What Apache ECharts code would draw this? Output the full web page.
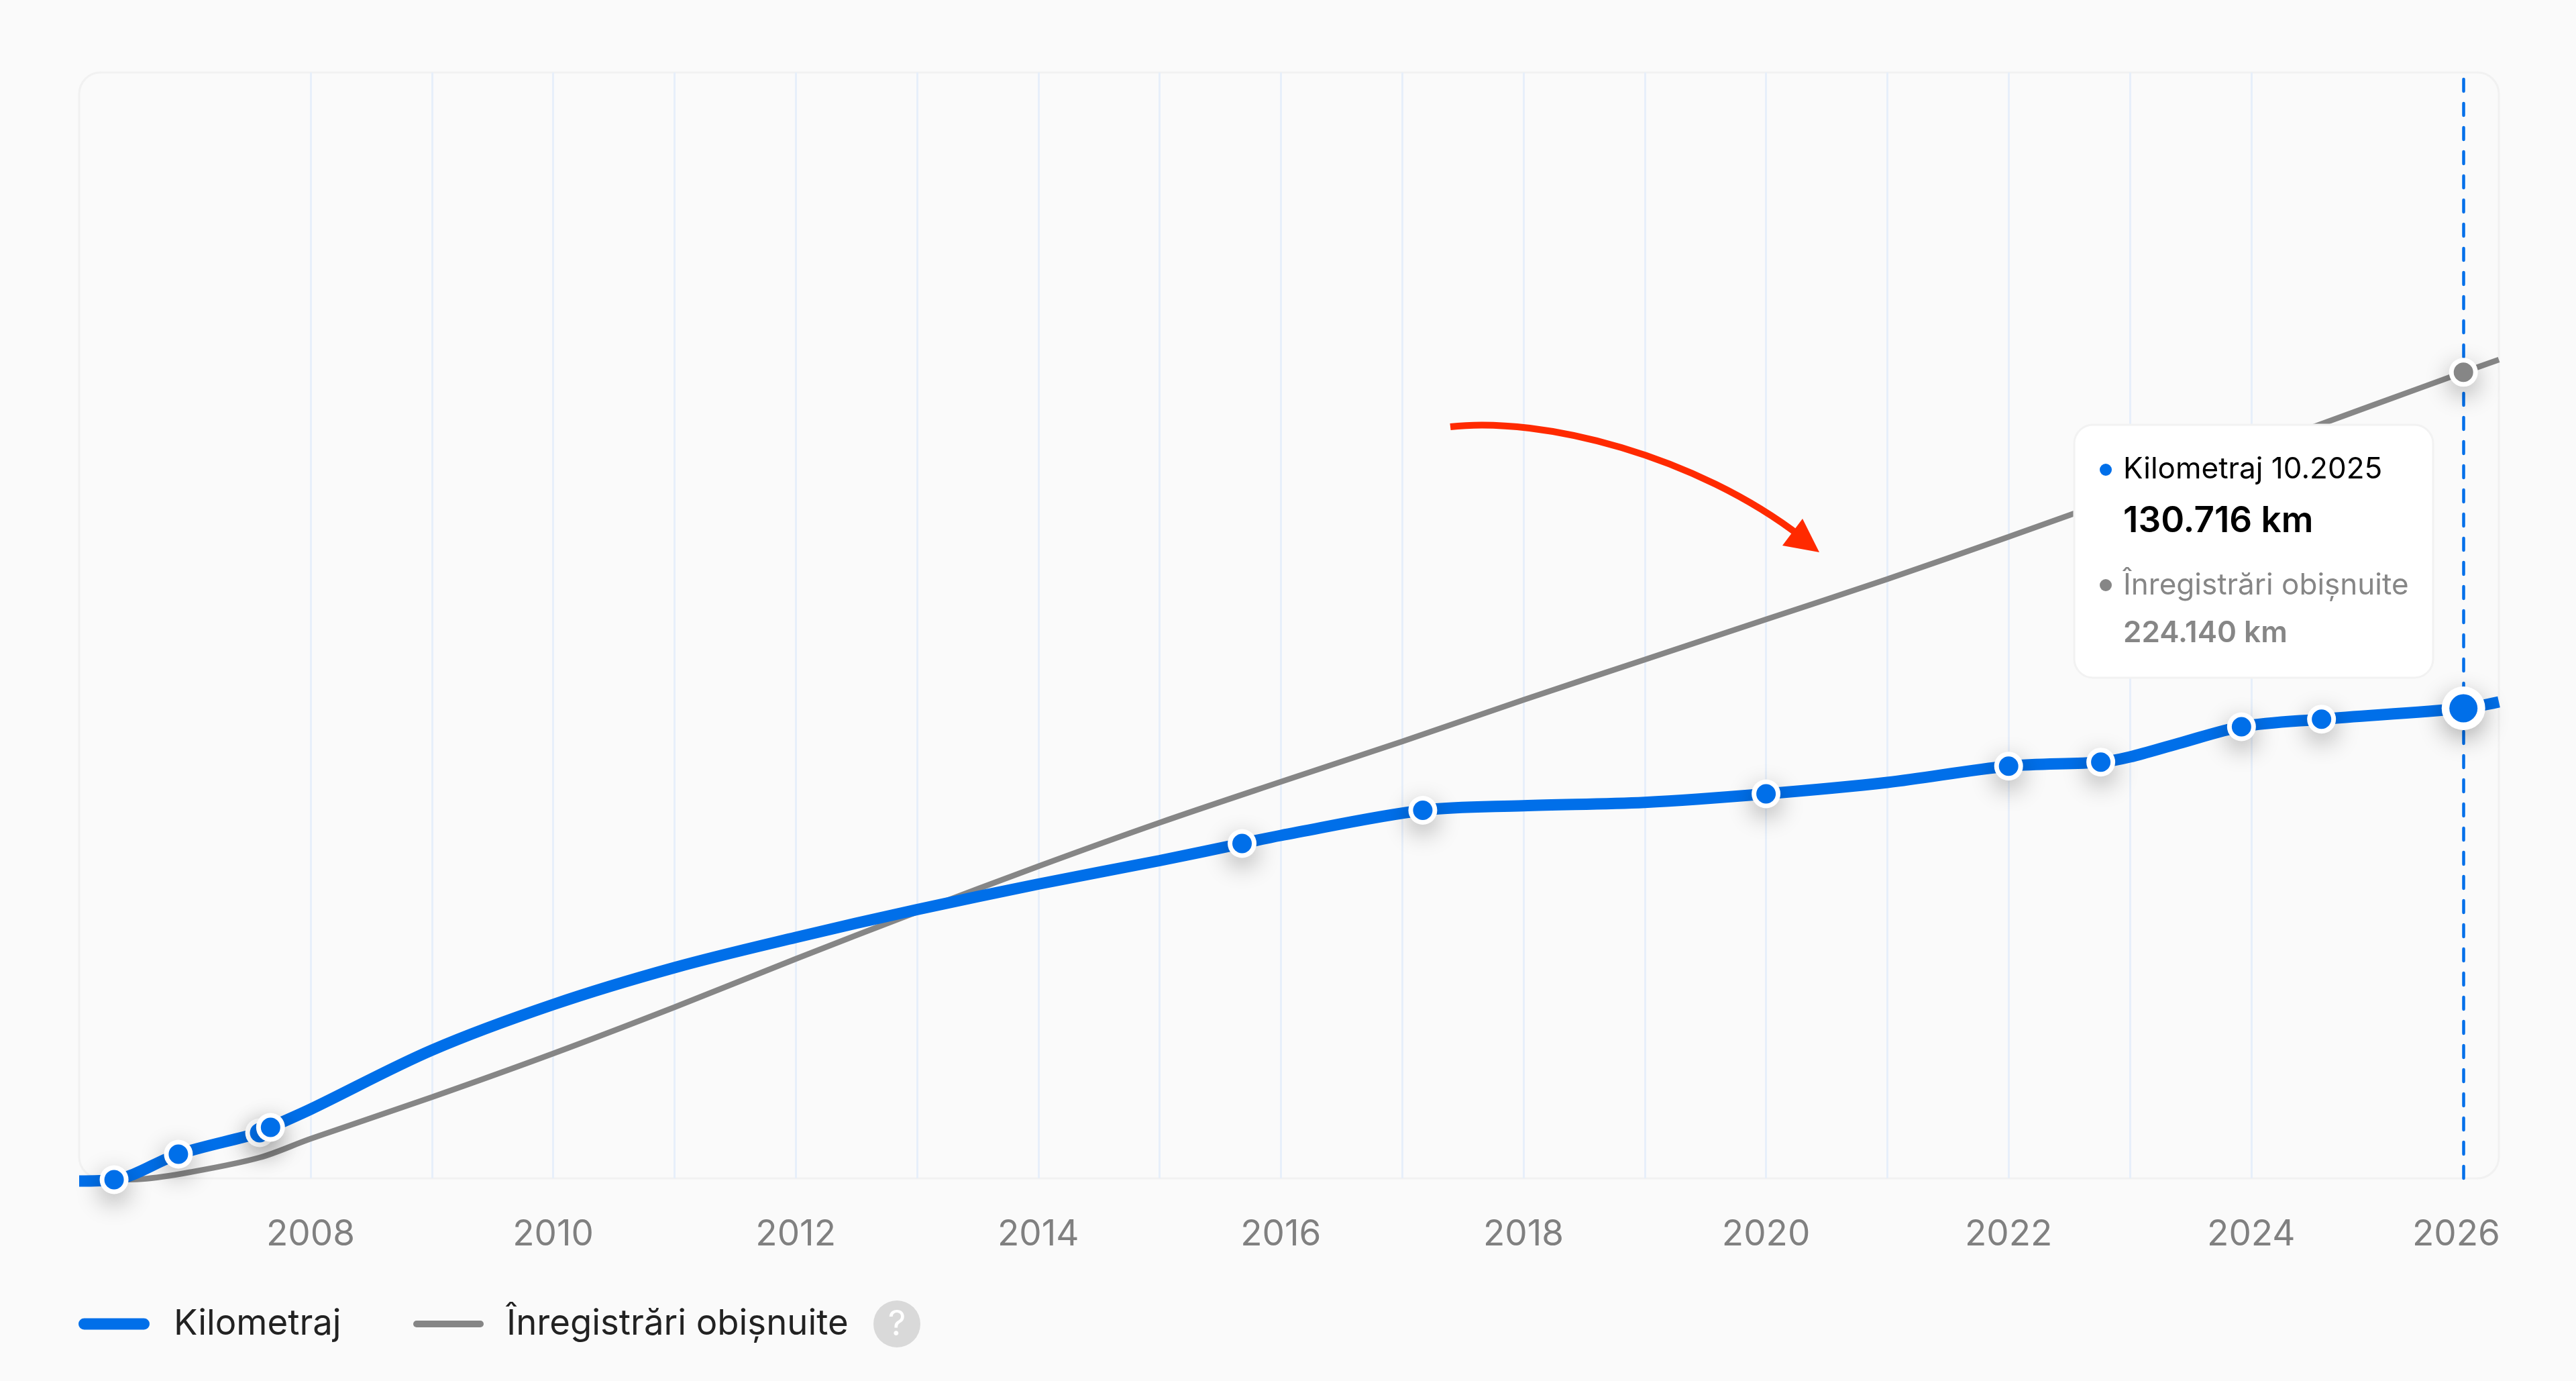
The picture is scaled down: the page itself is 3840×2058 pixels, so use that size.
<!DOCTYPE html>
<html><head><meta charset="utf-8">
<style>html,body{margin:0;padding:0;background:#fafafa}#c{width:3840px;height:2058px}</style>
<script src="https://cdn.jsdelivr.net/npm/echarts@6/dist/echarts.min.js"></script>
</head><body><div id="c"></div>
<script>
// ---- data ----
const seriesKm = 'Kilometraj';
const seriesReg = 'Înregistrări obișnuite';
const tickYears = [2008,2010,2012,2014,2016,2018,2020,2022,2024,2026];
const gridYears = [2007,2008,2009,2010,2011,2012,2013,2014,2015,2016,2017,2018,2019,2020,2021,2022,2023,2024,2025];
const kmYears = [2006.092,2006.38,2006.91,2007.58,2007.67,2008,2009,2010,2011,2012,2013,2014,2015,2015.68,2016,2017.17,2018,2019,2020,2021,2022,2022.76,2023,2023.4,2023.92,2024.58,2025.75,2026.042];
const kmValues = [-750,-373,6718,12689,14182,19220,35641,48329,58592,66990,74734,81825,88356,93113,95353,102350,103620,104550,106920,110094,114630,115750,117185,120917,125580,127690,130716,132490];
const kmMarkerYears = [2006.38,2006.91,2007.58,2007.67,2015.68,2017.17,2020,2022,2022.76,2023.92,2024.58,2025.75];
const regYears = [2006.38,2006.61,2007,2007.58,2008,2009,2010,2011,2012,2013,2014,2015,2016,2017,2018,2019,2020,2021,2022,2023,2024,2025,2025.75,2026.042];
const regValues = [-373,-187,1680,5785,11009,22579,34708,47583,61018,74080,86769,98898,110281,121477,133046,144242,155438,166634,178390,190500,202650,214960,224140,227650];
const currentYear = 2025.75;
const tipTitle = 'Kilometraj 10.2025', tipKm = '130.716 km', tipReg = '224.140 km';

// ---- layout and style ----
const FONT = 'Inter';
const BLUE = '#006fe9', GREY = '#868686';
const box = {l:118, t:108, r:3725, b:1756};
const xRange = [2006.092, 2026.042], yRange = [0, 307517];
const shadow = {shadowColor:'rgba(0,0,0,0.32)', shadowBlur:36, shadowOffsetY:12};
const pair = (ys,vs)=>ys.map((y,i)=>[y,vs[i]]);
const kmMarkers = kmMarkerYears.map(y=>[y,kmValues[kmYears.indexOf(y)]]);
const regMarkers = [[currentYear,regValues[regYears.indexOf(currentYear)]]];

// white halo with a soft shadow and a clean dot on top, drawn in data order
const markerSeries = (data,color,z)=>({type:'custom', data, z, clip:false, silent:true, coordinateSystem:'cartesian2d',
  encode:{x:0,y:1},
  renderItem:(params,api)=>{
    const p = api.coord([api.value(0),api.value(1)]);
    const big = color===BLUE && api.value(0)===currentYear;
    return {type:'group', children:[
      {type:'circle', shape:{cx:p[0],cy:p[1],r:big?32.5:21.5}, style:{fill:'#fff',...shadow}},
      {type:'circle', shape:{cx:p[0],cy:p[1],r:big?21:14.5}, style:{fill:color}}
    ]};
  }});
const txt = (x,y,text,fontSize,fill,fontWeight,align) => ({type:'text', x, y, z:100,
  style:{text, fontFamily:FONT, fontSize, fill, fontWeight:fontWeight||400, textAlign:align||'left', textVerticalAlign:'middle'}});
const labelStyle = {color:'#808080', fontFamily:FONT, fontSize:53};

const chart = echarts.init(document.getElementById('c'), null, {renderer:'canvas'});
chart.setOption({
  animation:false,
  backgroundColor:'#fafafa',
  grid:{left:box.l, top:box.t, width:box.r-box.l, height:box.b-box.t, show:false},
  xAxis:{type:'value', min:xRange[0], max:xRange[1],
    axisLine:{show:false},
    axisTick:{show:false, customValues:gridYears},
    splitLine:{show:true, showMinLine:false, showMaxLine:false, lineStyle:{color:'#e7effa', width:3}},
    axisLabel:{show:true, margin:58, customValues:tickYears, hideOverlap:false, ...labelStyle,
      formatter:v=> v===2026 ? '{last|'+v+'}' : String(v),
      rich:{last:{...labelStyle, padding:[0,112,0,0]}}}},
  yAxis:{type:'value', min:yRange[0], max:yRange[1], show:false, splitLine:{show:false}},
  series:[
    {name:seriesReg, type:'line', data:pair(regYears,regValues), clip:false, smooth:0.33, z:2, symbol:'none',
      lineStyle:{color:GREY, width:8.5}, itemStyle:{color:GREY}, emphasis:{disabled:true}},
    {name:seriesKm, type:'line', data:pair(kmYears,kmValues), clip:false, smooth:0.33, z:3, symbol:'none',
      lineStyle:{color:BLUE, width:17}, itemStyle:{color:BLUE}, emphasis:{disabled:true},
      markLine:{silent:true, symbol:'none', z:1, label:{show:false}, animation:false,
        lineStyle:{color:BLUE, width:4.5, type:[18,18], cap:'round'},
        data:[{xAxis:currentYear}]}},
    markerSeries(regMarkers,GREY,4),
    markerSeries(kmMarkers,BLUE,5)
  ],
  graphic:{elements:[
    {type:'rect', z:0, shape:{x:box.l,y:box.t,width:box.r-box.l,height:box.b-box.t,r:32},
      style:{fill:'none', stroke:'#f1f1f1', lineWidth:3}},
    // annotation arrow
    {type:'bezierCurve', z:50, shape:{x1:2162,y1:636,cpx1:2300,cpy1:620,cpx2:2530,cpy2:680,x2:2685,y2:800},
      style:{fill:'none', stroke:'#ff2a00', lineWidth:10}},
    {type:'polygon', z:50, shape:{points:[[2687,773],[2712,823],[2657,813]]}, style:{fill:'#ff2a00'}},
    // tooltip card
    {type:'rect', z:100, shape:{x:3092,y:633,width:535,height:377,r:28},
      style:{fill:'#fff', stroke:'#f2f2f2', lineWidth:3}},
    {type:'circle', z:101, shape:{cx:3139,cy:700,r:9}, style:{fill:BLUE}},
    txt(3165,700,tipTitle,44,'#000',400),
    txt(3165,777,tipKm,53,'#000',600),
    {type:'circle', z:101, shape:{cx:3139,cy:872,r:9}, style:{fill:GREY}},
    txt(3165,873,seriesReg,44,'#868686',400),
    txt(3165,944,tipReg,44,'#868686',600),
    // legend
    {type:'rect', z:100, shape:{x:117,y:1964.5,width:106,height:17,r:8.5}, style:{fill:BLUE}},
    txt(259,1973,seriesKm,52.7,'#222',400),
    {type:'rect', z:100, shape:{x:616,y:1968,width:105,height:10,r:5}, style:{fill:GREY}},
    txt(755,1973,seriesReg,52.7,'#222',400),
    {type:'circle', z:100, shape:{cx:1337,cy:1973,r:35}, style:{fill:'#d9d9d9'}},
    txt(1337,1974,'?',52,'#fff',400,'center')
  ]}
});
</script></body></html>
